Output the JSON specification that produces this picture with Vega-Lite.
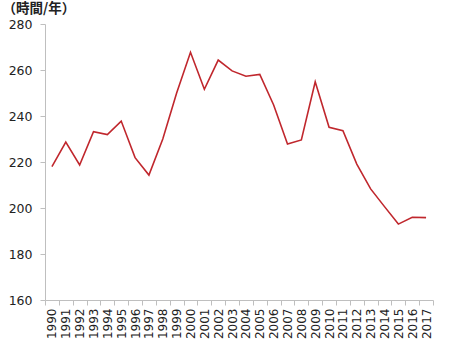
{
  "$schema": "https://vega.github.io/schema/vega-lite/v6.json",
  "autosize": "none",
  "width": 388,
  "height": 276,
  "padding": {"left": 45, "top": 24, "right": 17, "bottom": 45},
  "background": "white",
  "config": {"view": {"stroke": null}},
  "data": {"values": [
    {"year": "1990", "hours": 218},
    {"year": "1991", "hours": 228.7},
    {"year": "1992", "hours": 218.7},
    {"year": "1993", "hours": 233.2},
    {"year": "1994", "hours": 231.9},
    {"year": "1995", "hours": 237.8},
    {"year": "1996", "hours": 221.9},
    {"year": "1997", "hours": 214.3},
    {"year": "1998", "hours": 230},
    {"year": "1999", "hours": 250},
    {"year": "2000", "hours": 267.7},
    {"year": "2001", "hours": 251.6},
    {"year": "2002", "hours": 264.3},
    {"year": "2003", "hours": 259.6},
    {"year": "2004", "hours": 257.3},
    {"year": "2005", "hours": 258.1},
    {"year": "2006", "hours": 244.8},
    {"year": "2007", "hours": 227.8},
    {"year": "2008", "hours": 229.6},
    {"year": "2009", "hours": 254.9},
    {"year": "2010", "hours": 235.1},
    {"year": "2011", "hours": 233.6},
    {"year": "2012", "hours": 219.1},
    {"year": "2013", "hours": 208.3},
    {"year": "2014", "hours": 200.6},
    {"year": "2015", "hours": 193},
    {"year": "2016", "hours": 196},
    {"year": "2017", "hours": 195.8}
  ]},
  "mark": {"type": "line", "color": "#c0272d", "strokeWidth": 1.6},
  "encoding": {
    "x": {
      "field": "year", "type": "ordinal", "bandPosition": 0.5,
      "scale": {"type": "band", "paddingInner": 0, "paddingOuter": 0},
      "axis": {
        "title": null, "labelAngle": -90, "tickBand": "extent",
        "domainColor": "#bfbfbf", "tickColor": "#bfbfbf", "tickSize": 5,
        "labelFont": "DejaVu Sans", "labelFontSize": 12, "labelColor": "#222",
        "labelPadding": 3
      }
    },
    "y": {
      "field": "hours", "type": "quantitative",
      "scale": {"domain": [160, 280], "nice": false, "zero": false},
      "axis": {
        "values": [160, 180, 200, 220, 240, 260, 280],
        "grid": false,
        "domainColor": "#bfbfbf", "tickColor": "#bfbfbf", "tickSize": 5,
        "labelFont": "DejaVu Sans", "labelFontSize": 12.5, "labelColor": "#222",
        "labelPadding": 8,
        "title": "（時間/年）", "titleAngle": 0, "titleAlign": "left",
        "titleBaseline": "top",
        "titleX": -43, "titleY": -23,
        "titleFont": "Noto Sans CJK JP", "titleFontSize": 13.5, "titleFontWeight": "bold", "titleColor": "#222"
      }
    }
  }
}
